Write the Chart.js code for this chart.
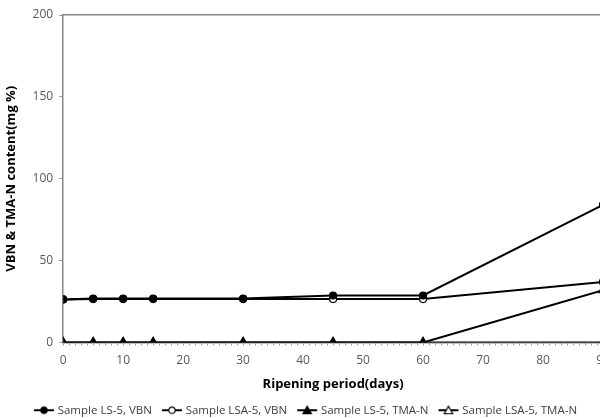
<!DOCTYPE html>
<html>
<head>
<meta charset="utf-8">
<script src="https://cdn.jsdelivr.net/npm/chart.js@4.4.0/dist/chart.umd.min.js"></script>
<style>
  html, body { margin: 0; padding: 0; overflow: hidden; background: #fff; }
  #wrap { width: 610px; height: 418px; }
</style>
</head>
<body>
<div id="wrap"><canvas id="myChart"></canvas></div>
<script>
const days = [0, 5, 10, 15, 30, 45, 60, 90];

const vbnLS5 = [26.3, 26.8, 26.8, 26.8, 26.8, 28.7, 28.7, 84];
const vbnLSA5 = [26.3, 26.5, 26.5, 26.5, 26.5, 26.5, 26.5, 37];
const tmaLS5 = [0, 0, 0, 0, 0, 0, 0, 0];
const tmaLSA5 = [0, 0, 0, 0, 0, 0, 0, 32];

const seriesNames = ['Sample LS-5, VBN', 'Sample LSA-5, VBN', 'Sample LS-5, TMA-N', 'Sample LSA-5, TMA-N'];

const font = '"Open Sans", "Noto Sans", sans-serif';

// little line+marker pictures for the legend
function legendIcon(shape, filled) {
  const c = document.createElement('canvas');
  c.width = 22; c.height = 12;
  const g = c.getContext('2d');
  g.strokeStyle = '#000';
  g.lineWidth = 2;
  g.beginPath(); g.moveTo(1, 6); g.lineTo(21, 6); g.stroke();
  g.fillStyle = filled ? '#000' : '#fff';
  g.lineWidth = 1.2;
  g.beginPath();
  if (shape === 'circle') {
    g.arc(11, 6, 3.2, 0, Math.PI * 2);
  } else {
    g.moveTo(11, 2); g.lineTo(15.2, 9.5); g.lineTo(6.8, 9.5); g.closePath();
  }
  g.fill(); g.stroke();
  return c;
}

function series(label, values, shape, filled) {
  return {
    label: label,
    data: days.map((d, i) => ({x: d, y: values[i]})),
    borderColor: '#000',
    backgroundColor: filled ? '#000' : '#fff',
    borderWidth: 2,
    pointStyle: shape === 'circle' ? 'circle' : 'triangle',
    pointRadius: shape === 'circle' ? 3.5 : 5,
    pointBorderWidth: 1.2,
    pointBackgroundColor: filled ? '#000' : '#fff',
    pointBorderColor: '#000',
    legendIcon: legendIcon(shape, filled),
    tension: 0
  };
}

const data = {
  datasets: [
    series(seriesNames[0], vbnLS5, 'circle', true),
    series(seriesNames[1], vbnLSA5, 'circle', false),
    series(seriesNames[2], tmaLS5, 'triangle', true),
    series(seriesNames[3], tmaLSA5, 'triangle', false)
  ]
};

const config = {
  type: 'line',
  data: data,
  options: {
    responsive: true,
    maintainAspectRatio: false,
    animation: false,
    layout: {padding: {top: 7, left: 3, right: 0, bottom: -8}},
    plugins: {
      legend: {
        position: 'bottom',
        labels: {
          usePointStyle: true,
          pointStyleWidth: 16,
          color: '#404040',
          font: {family: font, size: 11.5},
          padding: 12,
          generateLabels: chart => chart.data.datasets.map((ds, i) => ({
            text: ds.label,
            pointStyle: ds.legendIcon,
            fontColor: '#404040',
            datasetIndex: i,
            lineWidth: 0
          }))
        }
      },
      tooltip: {enabled: false}
    },
    scales: {
      x: {
        type: 'linear',
        min: 0,
        max: 90,
        afterFit: scale => { scale.paddingRight = 7; },
        grid: {display: true, drawOnChartArea: false, drawTicks: true, tickLength: 3, color: '#9a9a9a'},
        border: {display: true, color: '#868686', width: 1.5},
        ticks: {
          stepSize: 1,
          autoSkip: false,
          maxRotation: 0,
          color: '#595959',
          font: {family: font, size: 12},
          padding: 8,
          callback: v => (v % 10 === 0 ? v : '')
        },
        title: {
          display: true,
          text: 'Ripening period(days)',
          color: '#000',
          font: {family: font, size: 13, weight: 'bold'},
          padding: {top: 1, bottom: 0}
        }
      },
      xTop: {
        type: 'linear',
        position: 'top',
        min: 0,
        max: 90,
        afterFit: scale => { scale.paddingRight = 7; },
        grid: {display: false},
        ticks: {display: false},
        border: {display: true, color: '#868686', width: 1.5}
      },
      y: {
        min: 0,
        max: 200,
        grid: {display: true, drawOnChartArea: false, drawTicks: true, tickLength: 4, color: '#9a9a9a'},
        border: {display: true, color: '#868686', width: 1.5},
        ticks: {
          stepSize: 50,
          color: '#595959',
          font: {family: font, size: 12},
          padding: 6
        },
        title: {
          display: true,
          text: 'VBN & TMA-N content(mg %)',
          color: '#000',
          font: {family: font, size: 13, weight: 'bold'},
          padding: {top: 0, bottom: 8}
        }
      }
    }
  }
};

const myChart = new Chart(document.getElementById('myChart'), config);
</script>
</body>
</html>
